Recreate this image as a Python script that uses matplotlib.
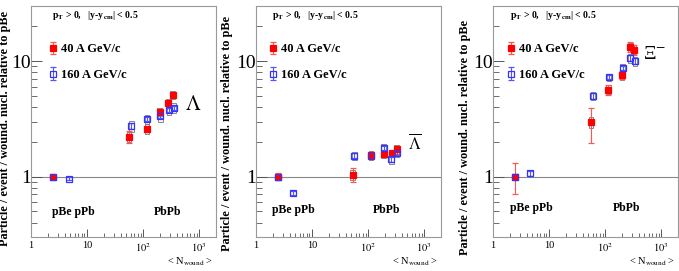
import matplotlib
matplotlib.use('Agg')
import matplotlib.pyplot as plt
from matplotlib.patches import Rectangle
from matplotlib.ticker import FixedLocator, NullFormatter, LogLocator

plt.rcParams['font.family'] = ['Liberation Serif', 'DejaVu Serif']
plt.rcParams['mathtext.fontset'] = 'stix'

# Lambda
lam_x40 = [2.5, 56, 117, 198, 282, 338]
lam_y40 = [1.0, 2.21, 2.60, 3.62, 4.31, 5.06]
lam_e40 = [0.03, 0.25, 0.15, 0.15, 0.2, 0.25]
lam_s40 = [0, 0.2, 0.25, 0.3, 0.35, 0.4]
lam_x160 = [2.5, 4.7, 62, 117, 204, 288, 352]
lam_y160 = [1.0, 0.96, 2.74, 3.13, 3.34, 3.77, 3.96]
lam_e160 = [0.02, 0.03, 0.15, 0.12, 0.12, 0.15, 0.15]
lam_s160 = [0, 0, 0.3, 0.3, 0.35, 0.35, 0.4]

# anti-Lambda
alam_x40 = [2.5, 53, 112, 190, 268, 322]
alam_y40 = [1.0, 1.04, 1.54, 1.58, 1.59, 1.72]
alam_e40 = [0.07, 0.15, 0.1, 0.08, 0.08, 0.1]
alam_s40 = [0, 0.1, 0.12, 0.12, 0.12, 0.14]
alam_x160 = [2.5, 4.6, 57, 112, 190, 261, 330]
alam_y160 = [1.0, 0.72, 1.52, 1.52, 1.77, 1.41, 1.61]
alam_e160 = [0.03, 0.03, 0.08, 0.06, 0.08, 0.07, 0.08]
alam_s160 = [0, 0, 0.12, 0.12, 0.15, 0.12, 0.14]

# Xi-
xi_x40 = [2.5, 56, 115, 200, 283, 330]
xi_y40 = [1.0, 2.95, 5.67, 7.6, 13.2, 12.6]
xi_e40 = [0.3, 1.0, 0.6, 0.6, 1.3, 1.3]
xi_s40 = [0, 0.3, 0.5, 0.7, 1.1, 1.1]
xi_x160 = [2.5, 4.6, 61, 117, 207, 283, 340]
xi_y160 = [1.0, 1.07, 4.96, 7.26, 8.7, 10.6, 10.0]
xi_e160 = [0.05, 0.05, 0.3, 0.3, 0.4, 0.6, 0.6]
xi_s160 = [0, 0, 0.4, 0.5, 0.7, 0.9, 0.9]

panels = [
    dict(d40=(lam_x40, lam_y40, lam_e40, lam_s40), d160=(lam_x160, lam_y160, lam_e160, lam_s160),
         name=r'$\Lambda$', name_size=15, name_pos=(0.876, 0.57), left=31, pt=(0.114, 0.957), leg=(0.06, 0.86),
         pbe=(0.114, 0.108), pbpb=(0.665, 0.108), ylab=(-0.108, 0.47)),
    dict(d40=(alam_x40, alam_y40, alam_e40, alam_s40), d160=(alam_x160, alam_y160, alam_e160, alam_s160),
         name=r'$\overline{\Lambda}$', name_size=12, name_pos=(0.86, 0.405), left=256, pt=(0.086, 0.957),
         leg=(0.035, 0.86), pbe=(0.086, 0.117), pbpb=(0.63, 0.117), ylab=(-0.124, 0.45)),
    dict(d40=(xi_x40, xi_y40, xi_e40, xi_s40), d160=(xi_x160, xi_y160, xi_e160, xi_s160),
         name='Ξ$^{-}$', name_size=14, name_pos=(0.875, 0.79), left=493, pt=(0.092, 0.957), leg=(0.04, 0.86),
         pbe=(0.092, 0.126), pbpb=(0.65, 0.126), ylab=(-0.12, 0.43)),
]

W, H = 679, 271
fig = plt.figure(figsize=(W / 100, H / 100), dpi=100)

for p in panels:
    ax = fig.add_axes([p['left'] / W, 34 / H, 185 / W, 231 / H])
    ax.set_xscale('log')
    ax.set_yscale('log')
    ax.set_xlim(1, 2000)
    ax.set_ylim(0.3, 30)
    ax.axhline(1, color='#888888', lw=0.8, zorder=1)

    handles = []
    for key, col, ecol, face, lab in [('d40', 'red', '#ff5555', 'red', '40 A GeV/c'),
                                      ('d160', '#3333ff', '#5555ff', 'none', '160 A GeV/c')]:
        xs, ys, es, ss = p[key]
        # systematic error boxes
        for x, y, s in zip(xs, ys, ss):
            if s > 0:
                f = 1.1
                ax.add_patch(Rectangle((x / f, y - s), x * f - x / f, 2 * s, fill=False,
                                       edgecolor='#777777', lw=0.6, zorder=2))
        h = ax.errorbar(xs, ys, yerr=es, fmt='s', color=col, mfc=face, mec=col, ms=4.5 if face != 'none' else 5,
                        mew=0.9, ecolor=ecol, elinewidth=0.8, capsize=2, capthick=0.8, zorder=3, label=lab)
        handles.append(h)

    ax.legend(handles=handles, loc='upper left', bbox_to_anchor=p['leg'], frameon=False,
              labelspacing=1.1, handlelength=0.9, handletextpad=0.2, borderaxespad=0,
              prop=dict(family='Liberation Serif', weight='bold', size=9))

    ax.xaxis.set_major_locator(FixedLocator([1, 10, 100, 1000]))
    ax.set_xticklabels(['1', '10', '$10^2$', '$10^3$'])
    ax.xaxis.set_minor_locator(LogLocator(subs=range(2, 10)))
    ax.xaxis.set_minor_formatter(NullFormatter())
    ax.yaxis.set_major_locator(FixedLocator([1, 10]))
    ax.set_yticklabels(['1', '10'])
    ax.yaxis.set_minor_locator(LogLocator(subs=range(2, 10)))
    ax.yaxis.set_minor_formatter(NullFormatter())
    ax.tick_params(axis='y', which='major', direction='in', length=8, width=0.7, labelsize=14, pad=0, color='#555555')
    ax.tick_params(axis='y', which='minor', direction='in', length=4, width=0.6, color='#555555')
    ax.tick_params(axis='x', which='major', direction='in', length=6, width=0.7, labelsize=7.5, pad=3, color='#555555')
    ax.tick_params(axis='x', which='minor', direction='in', length=3, width=0.6, color='#555555')
    for sp in ax.spines.values():
        sp.set_color('#999999')
        sp.set_linewidth(0.8)

    ax.set_ylabel('Particle / event / wound. nucl. relative to pBe', fontsize=8.8, fontweight='bold')
    ax.yaxis.set_label_coords(*p['ylab'])
    ax.text(0.985, -0.108, r'< N$_{\mathrm{wound}}$ >', transform=ax.transAxes, ha='right', va='center', fontsize=7.5)

    ax.text(p['pt'][0], p['pt'][1], r'p$_{\mathbf{T}}$ > 0,   |y-y$_{\mathbf{cm}}$| < 0.5', transform=ax.transAxes,
            ha='left', va='center', fontsize=7, fontweight='bold')
    ax.text(p['pbe'][0], p['pbe'][1], 'pBe pPb', transform=ax.transAxes, ha='left', va='center',
            fontsize=8.5, fontweight='bold')
    ax.text(p['pbpb'][0], p['pbpb'][1], 'PbPb', transform=ax.transAxes, ha='left', va='center',
            fontsize=8.5, fontweight='bold')
    ax.text(p['name_pos'][0], p['name_pos'][1], p['name'], transform=ax.transAxes, ha='center', va='center',
            fontsize=p['name_size'])

fig.savefig('out.png', dpi=100)
